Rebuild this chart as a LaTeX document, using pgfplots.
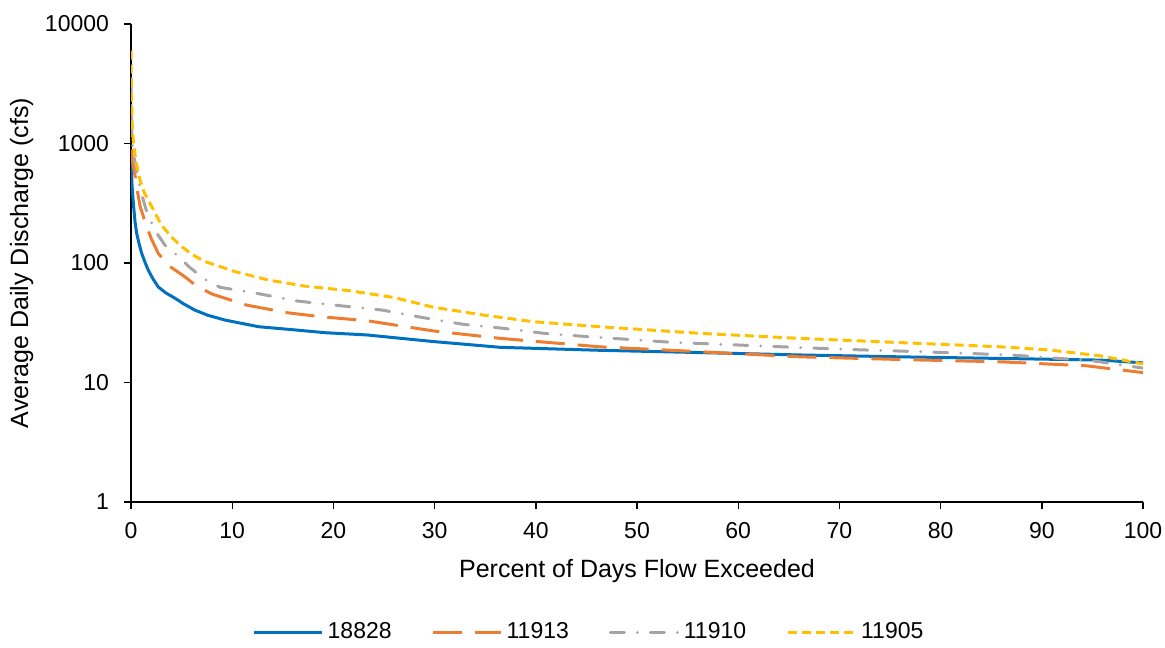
\documentclass[border=0pt]{standalone}
\usepackage{fontspec}
\setmainfont{Liberation Sans}
\usepackage{pgfplots}
\pgfplotsset{compat=1.18}
\definecolor{sblue}{HTML}{0070C0}
\definecolor{sorange}{HTML}{ED7D31}
\definecolor{sgray}{HTML}{A5A5A5}
\definecolor{syellow}{HTML}{FFC000}

\begin{document}
\begin{tikzpicture}
\begin{axis}[name=ax,at={(0pt,0pt)},anchor=south west,
scale only axis,width=506pt,height=239pt,
ymode=log,xmin=0,xmax=100,ymin=1,ymax=10000,
axis x line*=bottom,axis y line*=left,
axis line style={black,line width=0.7pt},
tick align=outside,major tick length=3.5pt,
tick style={black,line width=0.7pt},
xtick={0,10,...,100},
ytick={1,10,100,1000,10000},yticklabels={1,10,100,1000,10000},
yminorticks=false,xminorticks=false,
/pgf/number format/assume math mode=true,
tick label style={font=\fontsize{11.5}{13}\selectfont},
xticklabel style={yshift=-3pt},
yticklabel style={xshift=-4pt},
label style={font=\fontsize{12.5}{14}\selectfont},
xlabel={Percent of Days Flow Exceeded},
ylabel={Average Daily Discharge (cfs)},
xlabel style={at={(axis description cs:0.5,-0.144)},anchor=center},
ylabel style={at={(axis description cs:-0.108,0.5)},anchor=center},
legend columns=4,
legend style={draw=none,at={(axis description cs:0.4536,-0.272)},anchor=center,
  font=\fontsize{11.5}{13}\selectfont,
  /tikz/every even column/.append style={column sep=18pt}},
legend image code/.code={\draw[#1] (0pt,0pt) -- (34pt,0pt);},
]
\addplot[sblue,line width=1.5pt,line join=round] coordinates {
(0,750) (0.1,450) (0.23,317) (0.4,220) (0.56,177) (0.8,145) (1.05,121) (1.35,103)
(1.71,87) (2.2,73) (2.7,63) (3.4,56.5) (4.35,50.7) (5.2,45.5) (6.3,40.4)
(7.6,36.5) (9.3,33.3) (12.6,29.3) (16.3,27.5)
(19.2,26.1) (23.3,25) (29.9,22) (36.5,19.7) (46.3,18.6) (56.2,17.8)
(66.1,17.0) (76,16.4) (85.9,15.9) (95.8,15.4) (100,14.6)};
\addlegendentry{18828}
\addplot[sorange,line width=1.5pt,line join=round,dash pattern=on 14.5pt off 6.5pt] coordinates {
(0,2000) (0.05,900) (0.15,700) (0.4,540) (0.56,435) (0.89,300) (1.38,222)
(2.0,160) (2.7,120) (3.8,94) (5.2,78) (6.5,64) (8.0,55) (11.4,44.5) (15.4,38.4) (18.8,35.5) (23.3,32.9)
(29.9,27) (36.5,23.4) (46.3,19.9) (56.2,18.1) (66.1,16.4) (77,15.5)
(85.9,14.9) (94.4,13.8) (100,12.1)};
\addlegendentry{11913}
\addplot[sgray,line width=1.5pt,line join=round,line cap=round,dash pattern=on 7pt off 6.5pt on 0.01pt off 6.5pt] coordinates {
(0,3500) (0.05,1400) (0.15,900) (0.6,560) (1.0,390) (1.55,269) (2.4,185) (3.36,141) (4.6,115)
(5.8,92) (7.2,74) (8.8,62.6) (12.4,55.8) (16.4,48.1) (20.8,43.8) (24.8,40.4)
(28.7,35.1) (32.8,30.7) (36.8,28.4) (40.8,25.8) (45.1,24.2) (53.4,21.7)
(61.8,20.3) (70.1,19.0) (78,18.1) (86.9,17.0) (95,15.2) (100,13.2)};
\addlegendentry{11910}
\addplot[syellow,line width=1.5pt,line join=round,dash pattern=on 4.5pt off 2.5pt] coordinates {
(0,6000) (0.05,2500) (0.12,1400) (0.23,1036) (0.5,700) (0.89,495) (1.3,390) (1.88,316) (3.0,208)
(4.0,165) (5.0,137) (6.1,117) (7.3,103) (10.3,84.6) (13.6,72) (17.2,64) (21.6,58.6) (25.9,51.6)
(29.9,42.6) (34.8,36.7) (39.7,32.3) (46.3,29.3) (56.2,25.8) (66.1,23.4)
(77,21.4) (85.9,19.9) (90.8,18.7) (95.8,16.7) (100,14.3)};
\addlegendentry{11905}
\end{axis}
\pgfresetboundingbox
\useasboundingbox ([xshift=-65.5pt,yshift=-72.5pt]ax.south west) rectangle ([xshift=11pt,yshift=12pt]ax.north east);
\end{tikzpicture}
\end{document}
